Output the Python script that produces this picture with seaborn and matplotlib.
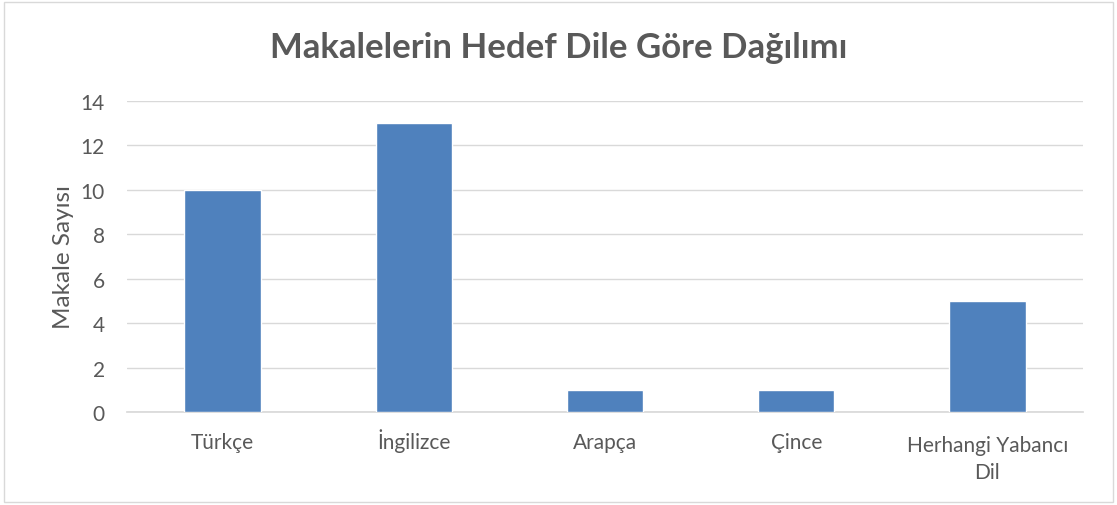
import matplotlib
matplotlib.use("Agg")
import matplotlib.pyplot as plt
import matplotlib.transforms as mtransforms
import seaborn as sns
import pandas as pd

categories = ["Türkçe", "İngilizce", "Arapça", "Çince", "Herhangi Yabancı\nDil"]
values = [10, 13, 1, 1, 5]

sns.set_theme(style="white")
plt.rcParams['font.family'] = ['Lato', 'DejaVu Sans']

df = pd.DataFrame({"cat": categories, "val": values})

fig = plt.figure(figsize=(11.17, 5.06), dpi=100)
ax = fig.add_axes([127/1117, 1-413/506, (1083-127)/1117, (413-102)/506])

sns.barplot(data=df, x="cat", y="val", color="#4F81BD", width=0.4, saturation=1, ax=ax, zorder=3)

ax.set_ylim(0, 14)
ax.set_yticks(range(0, 15, 2))
ax.set_xlim(-0.5, 4.5)
ax.grid(axis="y", color="#D9D9D9", linewidth=1, zorder=0)
ax.set_axisbelow(True)
for s in ["top", "right", "left"]:
    ax.spines[s].set_visible(False)
ax.spines["bottom"].set_color("#D9D9D9")
ax.tick_params(axis="both", length=0, colors="#595959", labelsize=15)
ax.tick_params(axis="x", pad=26)
ax.tick_params(axis="y", pad=16)
for lab in ax.get_xticklabels():
    lab.set_linespacing(1.45)
    lab.set_verticalalignment("baseline")
    nlines = lab.get_text().count("\n")
    if nlines:
        lab.set_transform(lab.get_transform() +
                          mtransforms.ScaledTranslation(0, -0.30 * nlines, fig.dpi_scale_trans))
ax.set_xlabel("")
ax.set_ylabel("Makale Sayısı", color="#595959", fontsize=17.5, labelpad=5)

fig.text(0.5, 1-48/506, "Makalelerin Hedef Dile Göre Dağılımı", ha="center", va="center",
         fontsize=25, fontweight="bold", color="#595959")

rect = plt.Rectangle((0.004, 0.006), 0.992, 0.988, transform=fig.transFigure, fill=False,
                     edgecolor="#D9D9D9", linewidth=1)
fig.patches.append(rect)

fig.savefig("out.png", dpi=100)
